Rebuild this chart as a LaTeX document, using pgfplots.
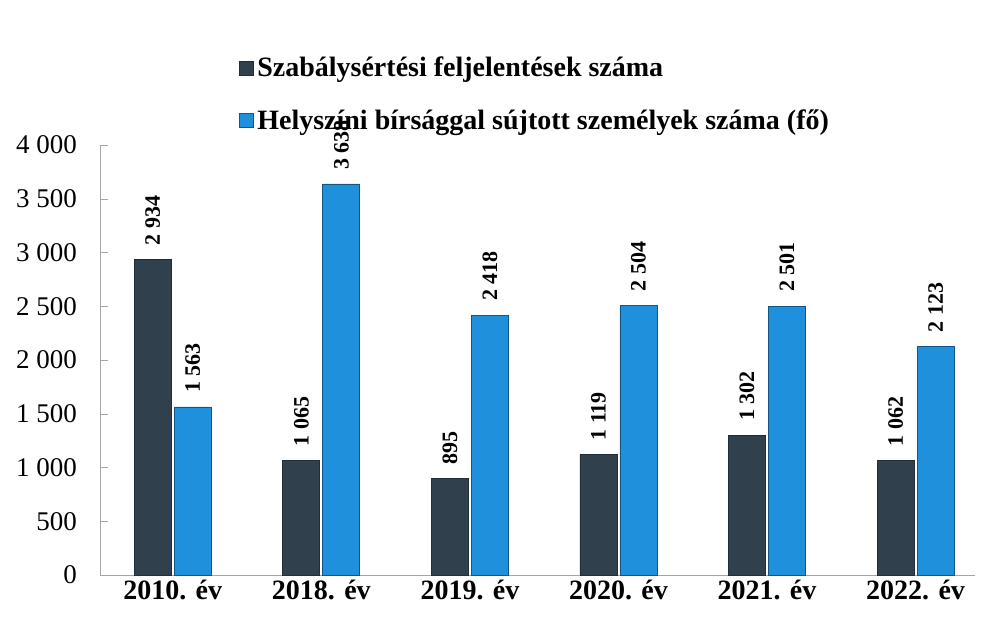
\documentclass[border=0pt]{standalone}
\usepackage{fontspec}
\setmainfont{Liberation Serif}
\usepackage{pgfplots}
\pgfplotsset{compat=1.18}
\definecolor{darkbar}{RGB}{48,64,77}
\definecolor{bluebar}{RGB}{30,144,220}
\begin{document}
\begin{tikzpicture}
\begin{axis}[
  scale only axis,
  width=437.5pt, height=215pt,
  xmin=-0.49, xmax=5.4,
  ymin=0, ymax=4000,
  ybar=1.5pt, bar width=18.5pt,
  axis x line*=bottom, axis y line*=left,
  axis line style={draw=gray!70, -},
  xtick={0,...,5},
  xticklabels={2010. év,2018. év,2019. év,2020. év,2021. év,2022. év},
  xtick style={draw=none},
  ytick={0,500,...,4000},
  ytick style={draw=gray!70},
  tick align=inside,
  major tick length=4pt,
  /pgf/number format/.cd, 1000 sep={\ }, assume math mode=true,
  /pgfplots/.cd,
  yticklabel style={font=\fontsize{13.5}{15}\selectfont, xshift=-8pt},
  xticklabel style={font=\bfseries\fontsize{14}{16}\selectfont, yshift=1pt},
  nodes near coords,
  every node near coord/.append style={rotate=90, anchor=west, inner xsep=7pt,
    font=\bfseries\fontsize{11}{12}\selectfont, text=black},
  clip=false,
  legend style={at={(0.151,1.225)}, anchor=north west, draw=none, fill=none,
    font=\bfseries\fontsize{14}{16}\selectfont, row sep=11pt,
    /tikz/every even column/.append style={column sep=2pt}},
  legend cell align=left,
  legend image code/.code={\fill[#1] (0pt,-3.5pt) rectangle (7pt,3.5pt);},
]
\addplot[fill=darkbar, draw=darkbar!70!black]
  coordinates {(0,2934) (1,1065) (2,895) (3,1119) (4,1302) (5,1062)};
\addplot[fill=bluebar, draw=bluebar!60!black]
  coordinates {(0,1563) (1,3638) (2,2418) (3,2504) (4,2501) (5,2123)};
\legend{Szabálysértési feljelentések száma, Helyszíni bírsággal sújtott személyek száma (fő)}
\coordinate (SW) at (rel axis cs:0,0);
\coordinate (NE) at (rel axis cs:1,1);
\end{axis}
\pgfresetboundingbox
\path ([shift={(-50pt,-22pt)}]SW) rectangle ([shift={(3pt,72.5pt)}]NE);
\end{tikzpicture}
\end{document}
